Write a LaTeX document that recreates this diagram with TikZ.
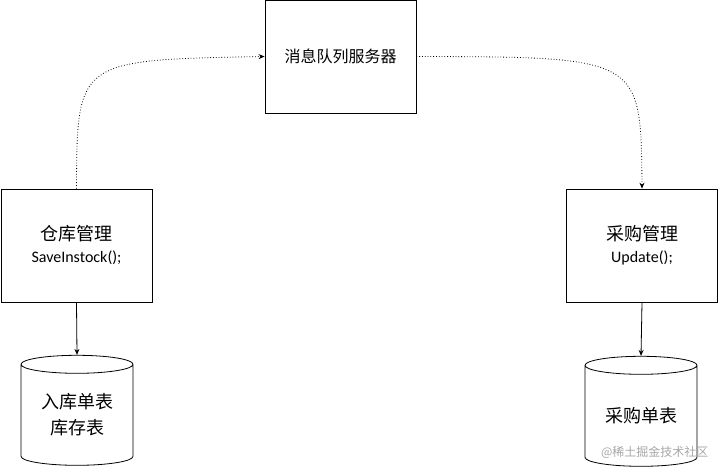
\documentclass[tikz,border=0pt]{standalone}
\usepackage{fontspec}
\setmainfont{Carlito}
\newfontfamily\cjk{Noto Sans CJK SC}
\usetikzlibrary{shapes.geometric,arrows.meta}
\begin{document}
\begin{tikzpicture}[x=1pt,y=-1pt,
 box/.style={draw,line width=0.8pt,minimum width=151pt,minimum height=113pt,inner sep=0pt,font=\fontsize{16}{22}\selectfont},
 db/.style={draw,line width=0.8pt,cylinder,shape border rotate=90,aspect=0.25,minimum width=112pt,minimum height=110pt,inner sep=0pt,font=\fontsize{18}{26}\selectfont\cjk},
 dots/.style={dotted,line width=0.8pt,-{Stealth[length=6pt,width=5pt]}},
 solid/.style={line width=0.8pt,-{Stealth[length=6pt,width=5pt]}}]
\useasboundingbox (0,0) rectangle (719,473);
\node[box] (mq) at (340.5,56.5) {\cjk\fontsize{16}{20}\selectfont 消息队列服务器};
\node[box,align=center] (wh) at (76.5,245.5) {{\cjk\fontsize{18}{24}\selectfont 仓库管理}\\SaveInstock();};
\node[box,align=center] (pu) at (642,245.5) {{\cjk\fontsize{18}{24}\selectfont 采购管理}\\Update();};
\node[db,align=center] (d1) at (77,415) {入库单表\\库存表};
\node[db] (d2) at (641,416) {采购单表};
\draw[dots] (wh.north) .. controls (77,60) .. (mq.west);
\draw[dots] (mq.east) .. controls (641,57) .. (pu.north);
\draw[solid] (wh.south) -- (d1.north);
\draw[solid] (pu.south) -- (d2.north);
\node[text=gray!70,font=\cjk\fontsize{12}{14}\selectfont,anchor=east] (wm) at (712,452) {@稀土掘金技术社区};
\end{tikzpicture}
\end{document}
